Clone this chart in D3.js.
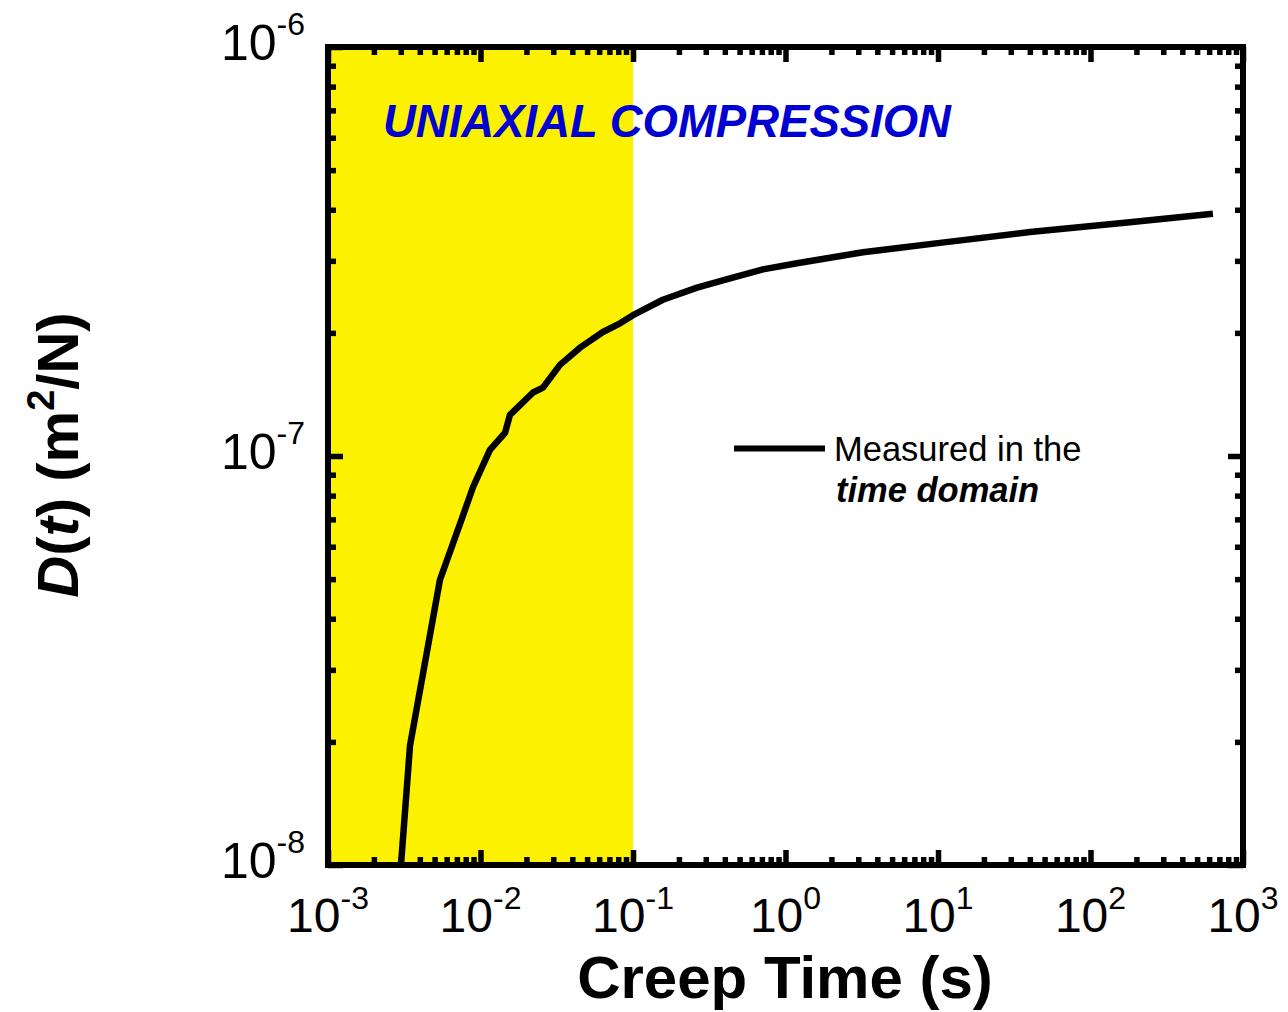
<!DOCTYPE html>
<html>
<head>
<meta charset="utf-8">
<script src="https://cdn.jsdelivr.net/npm/d3@7"></script>
<style>
  body { margin: 0; background: #fff; }
  svg { display: block; }
  text { font-family: "Liberation Sans", Arial, sans-serif; }
</style>
</head>
<body>
<div id="chart"></div>
<script>
// Creep time (s) and compliance D(t) (m^2/N)
const creepTime = [0.00301, 0.00345, 0.00542, 0.00757, 0.00894, 0.01153, 0.0145, 0.0156, 0.0181,
  0.0221, 0.0257, 0.0332, 0.0449, 0.0635, 0.0822, 0.100, 0.157, 0.263, 0.433, 0.711, 1.19, 3.22,
  5.64, 10.3, 40.1, 181, 635];
const compliance = [1.0e-8, 1.96e-8, 4.98e-8, 7.05e-8, 8.4e-8, 1.035e-7, 1.14e-7, 1.26e-7, 1.33e-7,
  1.43e-7, 1.47e-7, 1.67e-7, 1.84e-7, 2.01e-7, 2.11e-7, 2.21e-7, 2.41e-7, 2.58e-7, 2.72e-7,
  2.86e-7, 2.96e-7, 3.15e-7, 3.23e-7, 3.32e-7, 3.53e-7, 3.73e-7, 3.91e-7];

const xExponents = [-3, -2, -1, 0, 1, 2, 3];
const yExponents = [-8, -7, -6];
const shadedRange = [1e-3, 1e-1];

const width = 1288;
const height = 1012;
const margin = { top: 47, right: 45, bottom: 147, left: 328 };
const w = width - margin.left - margin.right;
const h = height - margin.top - margin.bottom;

const x = d3.scaleLog().domain([1e-3, 1e3]).range([0, w]);
const y = d3.scaleLog().domain([1e-8, 1e-6]).range([h, 0]);

const svg = d3.select("#chart").append("svg")
  .attr("width", width)
  .attr("height", height);

const g = svg.append("g")
  .attr("transform", `translate(${margin.left},${margin.top})`);

g.append("clipPath").attr("id", "clip")
  .append("rect").attr("width", w).attr("height", h);

// yellow band
g.append("rect")
  .attr("x", x(shadedRange[0]))
  .attr("y", 0)
  .attr("width", x(shadedRange[1]) - x(shadedRange[0]))
  .attr("height", h)
  .attr("fill", "#fcf200");

// ticks (inward, mirrored on all sides)
const xMajor = xExponents.map((e) => Math.pow(10, e));
const yMajor = yExponents.map((e) => Math.pow(10, e));
const isMajor = (v) => Math.abs(Math.log10(v) - Math.round(Math.log10(v))) < 1e-9;
const xMinor = x.ticks().filter((v) => !isMajor(v));
const yMinor = y.ticks().filter((v) => !isMajor(v));

function tickAxis(axis, values, size, transform) {
  const a = g.append("g")
    .attr("transform", transform)
    .call(axis.tickValues(values).tickSize(size).tickFormat(""));
  a.select(".domain").remove();
  a.selectAll("line").attr("stroke", "#000").attr("stroke-width", 5.5);
}

tickAxis(d3.axisBottom(x), xMajor, -15, `translate(0,${h})`);
tickAxis(d3.axisBottom(x), xMinor, -8, `translate(0,${h})`);
tickAxis(d3.axisTop(x), xMajor, -15, "translate(0,0)");
tickAxis(d3.axisTop(x), xMinor, -8, "translate(0,0)");
tickAxis(d3.axisLeft(y), yMajor, -15, "translate(0,0)");
tickAxis(d3.axisLeft(y), yMinor, -8, "translate(0,0)");
tickAxis(d3.axisRight(y), yMajor, -15, `translate(${w},0)`);
tickAxis(d3.axisRight(y), yMinor, -8, `translate(${w},0)`);

// curve
const line = d3.line()
  .x((d, i) => x(creepTime[i]))
  .y((d, i) => y(compliance[i]));

g.append("path")
  .datum(creepTime)
  .attr("clip-path", "url(#clip)")
  .attr("d", line)
  .attr("fill", "none")
  .attr("stroke", "#000")
  .attr("stroke-width", 6.5)
  .attr("stroke-linejoin", "round");

// frame
g.append("rect")
  .attr("width", w)
  .attr("height", h)
  .attr("fill", "none")
  .attr("stroke", "#000")
  .attr("stroke-width", 6);

// tick labels
xExponents.forEach((e) => {
  const t = g.append("text")
    .attr("x", x(Math.pow(10, e)))
    .attr("y", h + 67)
    .attr("text-anchor", "middle")
    .attr("font-size", 48);
  t.append("tspan").text("10");
  t.append("tspan").attr("dy", -23).attr("font-size", 32).text(e);
});

yExponents.forEach((e) => {
  const t = g.append("text")
    .attr("x", -23)
    .attr("y", y(Math.pow(10, e)) + 13)
    .attr("text-anchor", "end")
    .attr("font-size", 50);
  t.append("tspan").text("10");
  t.append("tspan").attr("dy", -25).attr("font-size", 32).text(e);
});

// axis titles
svg.append("text")
  .attr("x", 785)
  .attr("y", 998)
  .attr("text-anchor", "middle")
  .attr("font-size", 60)
  .attr("font-weight", "bold")
  .text("Creep Time (s)");

const yt = svg.append("text")
  .attr("transform", "translate(78,455) rotate(-90)")
  .attr("text-anchor", "middle")
  .attr("font-size", 58)
  .attr("font-weight", "bold");
yt.append("tspan").attr("font-style", "italic").text("D");
yt.append("tspan").text("(");
yt.append("tspan").attr("font-style", "italic").text("t");
yt.append("tspan").text(") (m");
yt.append("tspan").attr("dy", -24).attr("font-size", 38).text("2");
yt.append("tspan").attr("dy", 24).text("/N)");

// annotation
svg.append("text")
  .attr("x", 383)
  .attr("y", 137)
  .attr("font-size", 45.5)
  .attr("font-weight", "bold")
  .attr("font-style", "italic")
  .attr("fill", "#0000d0")
  .text("UNIAXIAL COMPRESSION");

// legend
svg.append("line")
  .attr("x1", 734).attr("x2", 825)
  .attr("y1", 448.5).attr("y2", 448.5)
  .attr("stroke", "#000")
  .attr("stroke-width", 6);

svg.append("text")
  .attr("x", 834)
  .attr("y", 461)
  .attr("font-size", 34.5)
  .text("Measured in the");

svg.append("text")
  .attr("x", 836)
  .attr("y", 502)
  .attr("font-size", 34.5)
  .attr("font-weight", "bold")
  .attr("font-style", "italic")
  .text("time domain");
</script>
</body>
</html>
